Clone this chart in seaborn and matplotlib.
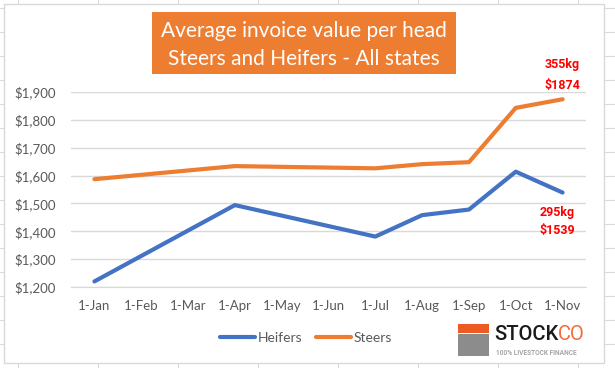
import numpy as np
import pandas as pd
import seaborn as sns
import matplotlib
import matplotlib.pyplot as plt
from matplotlib.patches import Rectangle
from matplotlib.lines import Line2D
from matplotlib.ticker import FuncFormatter, MultipleLocator

matplotlib.use('Agg')

months = ['1-Jan', '1-Feb', '1-Mar', '1-Apr', '1-May', '1-Jun',
          '1-Jul', '1-Aug', '1-Sep', '1-Oct', '1-Nov']
heifers = [1220, np.nan, np.nan, 1494, np.nan, np.nan, 1381, 1458, 1478, 1614, 1539]
steers = [1587, np.nan, np.nan, 1634, np.nan, np.nan, 1626, 1641, 1648, 1843, 1874]
y_ticks = [1200, 1300, 1400, 1500, 1600, 1700, 1800, 1900]
title_lines = ['Average invoice value per head', 'Steers and Heifers - All states']
steer_note = ['355kg', '$1874']
heifer_note = ['295kg', '$1539']

df = pd.DataFrame({'pos': list(range(len(months))) * 2,
                   'value': heifers + steers,
                   'series': ['Heifers'] * len(months) + ['Steers'] * len(months)})
df = df.dropna()

sns.set_style('white')
plt.rcParams['font.family'] = ['Lato', 'DejaVu Sans']

W, H = 615, 368
fig = plt.figure(figsize=(W / 100, H / 100), dpi=100)


def fx(px):
    return px / W


def fy(py):
    return 1 - py / H


# spreadsheet cells behind the chart
for x in np.arange(18, W, 80):
    fig.add_artist(Line2D([fx(x), fx(x)], [0, 1], color='#d9d9d9', lw=0.8, zorder=-3))
for y in np.arange(8, H, 24):
    fig.add_artist(Line2D([0, 1], [fy(y), fy(y)], color='#d9d9d9', lw=0.8, zorder=-3))
fig.add_artist(Rectangle((fx(4), fy(363)), fx(600), 359 / H, facecolor='white',
                         edgecolor='#d9d9d9', lw=1, zorder=-2))

ax = fig.add_axes([fx(71), fy(287), fx(586 - 71), (287 - 92) / H])
ax.set_facecolor('none')

palette = {'Heifers': '#4472C4', 'Steers': '#ED7D31'}
sns.lineplot(data=df, x='pos', y='value', hue='series', palette=palette,
             linewidth=3, ax=ax, legend=False, sort=False,
             solid_capstyle='round', solid_joinstyle='round')

ax.set_xlim(-0.5, len(months) - 0.5)
ax.set_ylim(1200, 1900)
ax.set_yticks(y_ticks)
ax.yaxis.set_major_formatter(FuncFormatter(lambda v, p: '${:,.0f}'.format(v)))
ax.set_xticks(range(len(months)))
ax.set_xticklabels(months)
ax.xaxis.set_minor_locator(MultipleLocator(1, offset=0.5))
ax.tick_params(axis='x', which='major', length=0, pad=9, labelsize=9.5, labelcolor='#595959')
ax.tick_params(axis='x', which='minor', length=4, color='#d9d9d9', width=1)
ax.tick_params(axis='y', length=0, pad=11, labelsize=9.5, labelcolor='#595959')
ax.grid(axis='y', color='#d9d9d9', lw=1)
ax.set_axisbelow(True)
for s in ['top', 'right', 'left']:
    ax.spines[s].set_visible(False)
ax.spines['bottom'].set_color('#d9d9d9')
ax.set_xlabel('')
ax.set_ylabel('')

# value notes
note_kw = dict(color='#FF0000', fontweight='bold', fontsize=9, family='Roboto',
               ha='center', va='center', clip_on=False)
ax.text(9.99, 1997, steer_note[0], **note_kw)
ax.text(9.99, 1925, steer_note[1], **note_kw)
ax.text(9.88, 1468, heifer_note[0], **note_kw)
ax.text(9.88, 1403, heifer_note[1], **note_kw)

# title box
fig.add_artist(Rectangle((fx(152), fy(74)), fx(304), 62 / H, facecolor='#ED7D31',
                         edgecolor='none', zorder=3))
fig.text(fx(304), fy(37), title_lines[0], color='white', fontsize=15,
         ha='center', va='baseline', zorder=4)
fig.text(fx(304), fy(65), title_lines[1], color='white', fontsize=15,
         ha='center', va='baseline', zorder=4)

# legend
handles = [Line2D([], [], color=palette[k], lw=3) for k in palette]
fig.legend(handles, list(palette), loc='center', bbox_to_anchor=(fx(306), fy(338)),
           ncol=2, frameon=False, fontsize=10, handlelength=2.5, handletextpad=0.2,
           columnspacing=1.0, labelcolor='#595959')

# logo
fig.add_artist(Rectangle((fx(458), fy(333)), fx(31), 9 / H, facecolor='#EE5A24',
                         edgecolor='none', zorder=3))
fig.add_artist(Rectangle((fx(458), fy(356)), fx(31), 22 / H, facecolor='#8c8c8c',
                         edgecolor='none', zorder=3))
t1 = fig.text(fx(494), fy(340), 'STOCK', color='#1a1a1a', fontsize=14.5,
              family='Roboto', fontweight='medium', ha='left', va='baseline')
ax.annotate('CO', xy=(1, 0), xycoords=t1, color='#F26B3A', fontsize=14.5,
            family='Roboto', ha='left', va='bottom', annotation_clip=False)
fig.text(fx(496), fy(355), '100% LIVESTOCK FINANCE', color='#a6a6a6', fontsize=4.8,
         fontweight='bold', family='Roboto', ha='left', va='baseline')

plt.savefig('out.png', dpi=100)
plt.close()
